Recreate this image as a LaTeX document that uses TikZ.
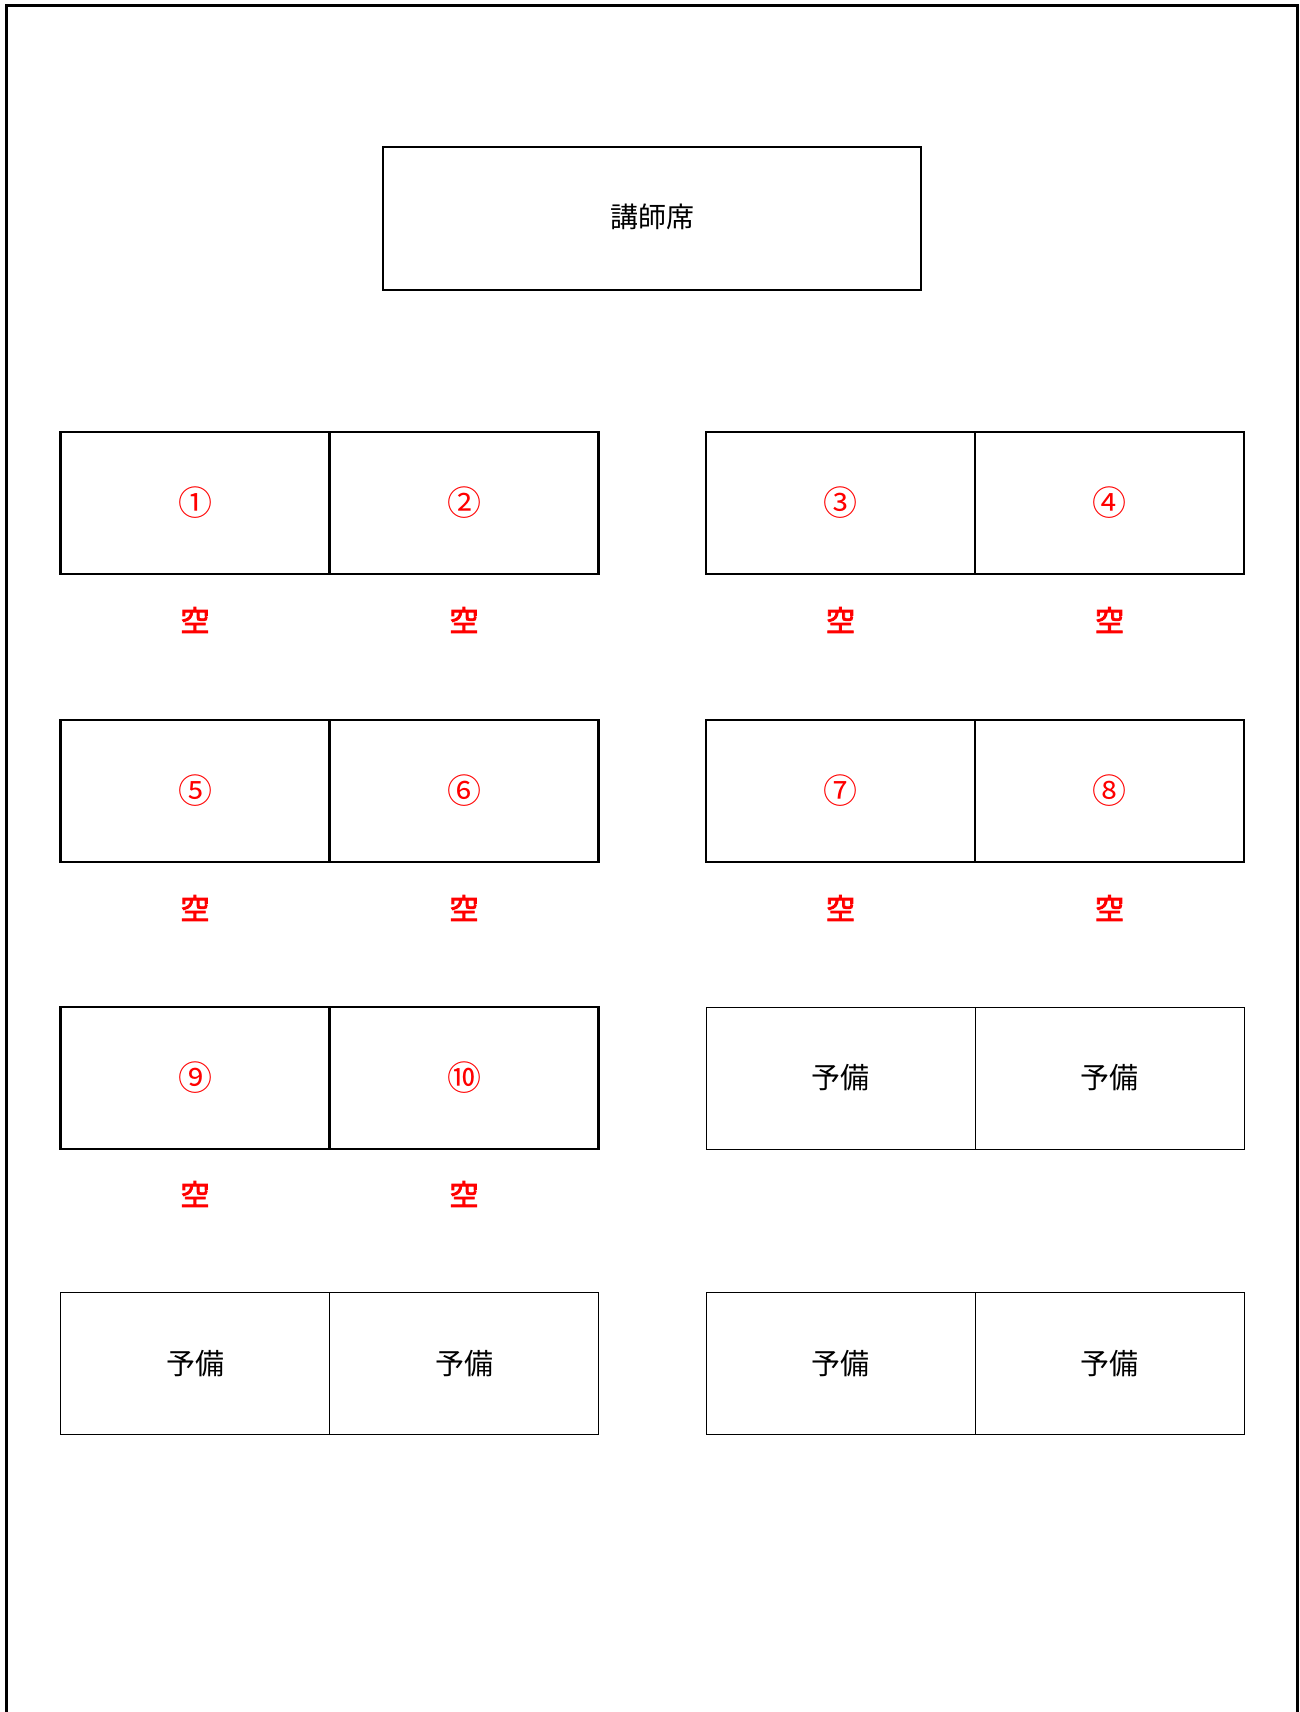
\documentclass[tikz,border=0pt]{standalone}
\usepackage{fontspec}
\setmainfont{Noto Sans CJK JP}
\newfontfamily\cjkb[FakeBold=3]{Noto Sans CJK JP}
\begin{document}
\begin{tikzpicture}[x=0.5pt,y=-0.5pt,
  frame/.style={line width=1.5pt},
  podium/.style={draw,line width=1.4pt,minimum width=269pt,minimum height=71.5pt,inner sep=0pt,font=\fontsize{14}{14}\selectfont},
  seat/.style={draw,line width=1.4pt,minimum width=134.5pt,minimum height=71pt,inner sep=0pt,text=red,font=\fontsize{17}{17}\selectfont},
  spare/.style={draw,line width=0.5pt,minimum width=134.5pt,minimum height=71pt,inner sep=0pt,font=\fontsize{14.5}{14.5}\selectfont},
  vacant/.style={text=red,inner sep=0pt,font=\cjkb\fontsize{14.5}{14.5}\selectfont}]
\useasboundingbox (0,0) rectangle (1300,1712);
\fill[white] (0,0) rectangle (1300,1712);
\coordinate (fbl) at (6,1712);
\coordinate (ftl) at (6,6);
\coordinate (ftr) at (1297,6);
\coordinate (fbr) at (1297,1712);
\draw[frame] (fbl) -- (ftl) -- (ftr) -- (fbr);
\node[podium] (pod) at (652,218.5) {\raisebox{3pt}{講師席}};
% row 1
\node[seat] (s1) at (195,503) {\raisebox{1.5pt}{①}};
\node[seat] (s2) at (464,503) {\raisebox{1.5pt}{②}};
\node[seat] (s3) at (840.5,503) {\raisebox{1.5pt}{③}};
\node[seat] (s4) at (1109.5,503) {\raisebox{1.5pt}{④}};
\node[vacant] (v1) at (195,620) {空};
\node[vacant] (v2) at (464,620) {空};
\node[vacant] (v3) at (840.5,620) {空};
\node[vacant] (v4) at (1109.5,620) {空};
% row 2
\node[seat] (s5) at (195,791) {\raisebox{1.5pt}{⑤}};
\node[seat] (s6) at (464,791) {\raisebox{1.5pt}{⑥}};
\node[seat] (s7) at (840.5,791) {\raisebox{1.5pt}{⑦}};
\node[seat] (s8) at (1109.5,791) {\raisebox{1.5pt}{⑧}};
\node[vacant] (v5) at (195,908) {空};
\node[vacant] (v6) at (464,908) {空};
\node[vacant] (v7) at (840.5,908) {空};
\node[vacant] (v8) at (1109.5,908) {空};
% row 3
\node[seat] (s9) at (195,1078) {\raisebox{1.5pt}{⑨}};
\node[seat] (s10) at (464,1078) {\raisebox{1.5pt}{⑩}};
\node[spare] (p1) at (840.5,1078) {\raisebox{1.5pt}{予備}};
\node[spare] (p2) at (1109.5,1078) {\raisebox{1.5pt}{予備}};
\node[vacant] (v9) at (195,1194) {空};
\node[vacant] (v10) at (464,1194) {空};
% row 4
\node[spare] (p3) at (195,1363.5) {\raisebox{1.5pt}{予備}};
\node[spare] (p4) at (464,1363.5) {\raisebox{1.5pt}{予備}};
\node[spare] (p5) at (840.5,1363.5) {\raisebox{1.5pt}{予備}};
\node[spare] (p6) at (1109.5,1363.5) {\raisebox{1.5pt}{予備}};
\end{tikzpicture}
\end{document}
